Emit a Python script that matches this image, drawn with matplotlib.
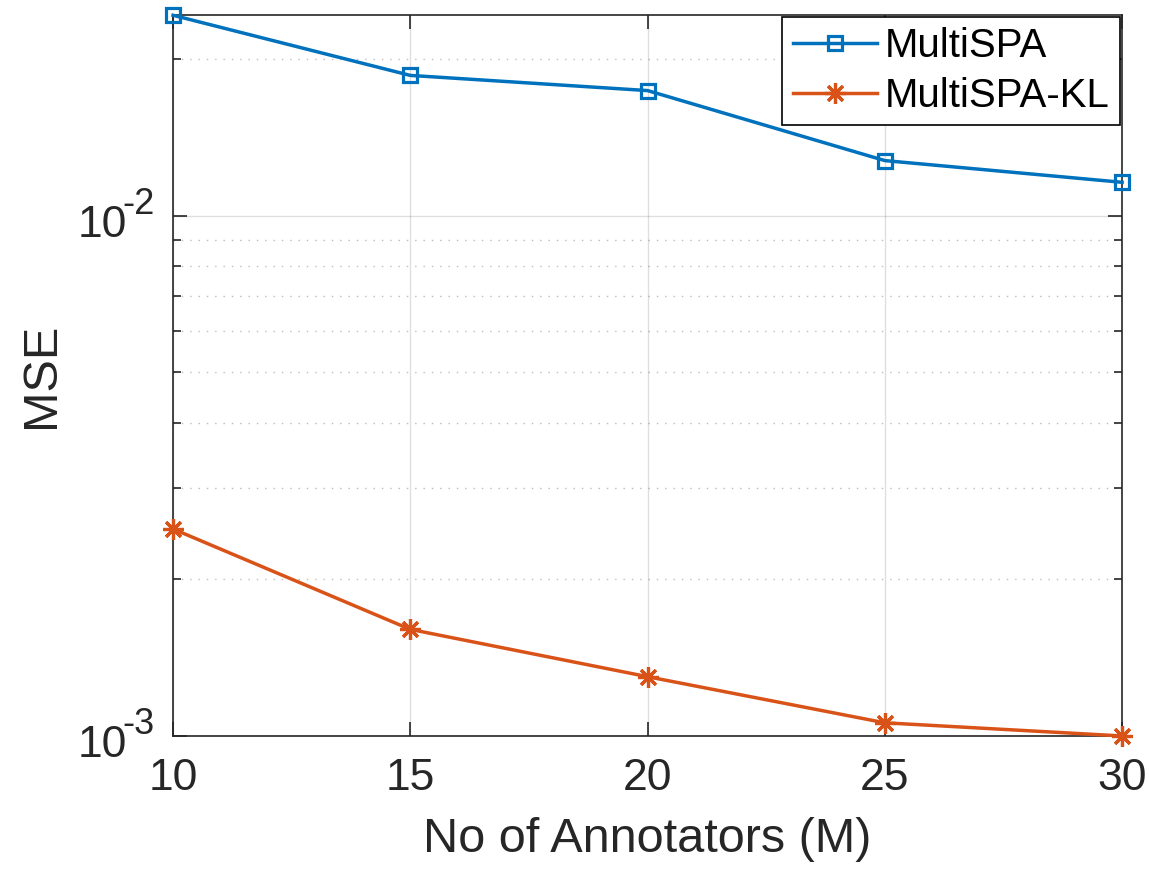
import numpy as np
import matplotlib
matplotlib.use("Agg")
import matplotlib.pyplot as plt
from matplotlib.ticker import LogLocator, FixedLocator, NullFormatter

annotators = [10, 15, 20, 25, 30]
mse_multispa = [0.0243, 0.01862, 0.01741, 0.01277, 0.0116]
mse_multispa_kl = [0.0025, 0.001603, 0.0013, 0.00106, 0.001]
ytick_vals = [1e-3, 1e-2]
ytick_exps = ['-3', '-2']

plt.rcParams['font.family'] = ['Liberation Sans', 'DejaVu Sans']

ax_color = '#262626'

def main():
    fig = plt.figure(figsize=(11.49, 8.72), dpi=100)
    ax = fig.add_axes([0.1506, 0.156, 0.826, 0.8265])

    ax.semilogy(annotators, mse_multispa, '-s', color='#0072BD', lw=2.5,
                ms=10, mfc='none', mew=2.3, label='MultiSPA', clip_on=False, zorder=3)
    ax.semilogy(annotators, mse_multispa_kl, '-', marker=(8, 2, 0), color='#D95319',
                lw=2.5, ms=15, mew=2.3, label='MultiSPA-KL', clip_on=False, zorder=3)

    ax.set_xlim(10, 30)
    ax.set_ylim(min(mse_multispa_kl), max(mse_multispa))
    ax.xaxis.set_major_locator(FixedLocator(annotators))
    ax.yaxis.set_major_locator(FixedLocator(ytick_vals))
    ax.yaxis.set_minor_locator(LogLocator(base=10, subs=np.arange(2, 10)))
    ax.yaxis.set_minor_formatter(NullFormatter())
    ax.set_yticklabels([])

    # MATLAB style "10^-2" labels with a large exponent
    ytr = ax.get_yaxis_transform()
    for v, e in zip(ytick_vals, ytick_exps):
        ax.annotate('10', xy=(0, v), xycoords=ytr, xytext=(-33, -7),
                    textcoords='offset points', ha='right', va='center',
                    fontsize=32, color=ax_color, annotation_clip=False)
        ax.annotate(e, xy=(0, v), xycoords=ytr, xytext=(-13, 8),
                    textcoords='offset points', ha='right', va='center',
                    fontsize=26, color=ax_color, annotation_clip=False)

    ax.grid(True, which='major', color='#262626', alpha=0.15, lw=1, ls='-')
    ax.grid(True, which='minor', axis='y', color='#262626', alpha=0.3, lw=1, ls=(0, (1, 5)))
    ax.set_axisbelow(True)

    for s in ax.spines.values():
        s.set_color(ax_color)
        s.set_linewidth(1.2)
    ax.tick_params(which='both', direction='in', top=True, right=True,
                   colors=ax_color, labelsize=32, width=1.2)
    ax.tick_params(which='major', length=10)
    ax.tick_params(axis='x', pad=16)
    ax.tick_params(which='minor', length=6)

    ax.set_xlabel('No of Annotators (M)', fontsize=35, color=ax_color)
    ax.xaxis.set_label_coords(0.5, -0.112)
    ax.set_ylabel('MSE', fontsize=35, color=ax_color)
    ax.yaxis.set_label_coords(-0.115, 0.5)

    leg = ax.legend(loc='upper right', fontsize=29, fancybox=False, framealpha=1,
                    edgecolor='k', borderaxespad=0.05, handlelength=2.1,
                    borderpad=0.25, labelspacing=0.3, handletextpad=0.2)
    leg.get_frame().set_linewidth(1.2)

    fig.savefig('out.png', dpi=100)

if __name__ == "__main__":
    main()
